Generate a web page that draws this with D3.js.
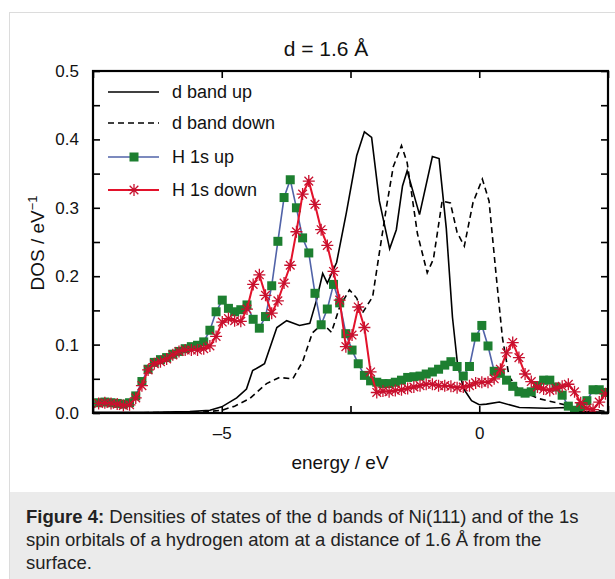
<!DOCTYPE html>
<html><head><meta charset="utf-8">
<script src="https://cdn.jsdelivr.net/npm/d3@7"></script>
<style>
html,body{margin:0;padding:0;background:#fff;}
svg{display:block;font-family:"Liberation Sans",Arial,Helvetica,sans-serif;}
</style></head>
<body>
<svg id="chart" width="615" height="579"></svg>
<script>
// ---------- data ----------
const title = "d = 1.6 Å";
const xLabel = "energy / eV";
const yLabelMain = "DOS / eV";
const yLabelSup = "−1";
const xTickValues = [-7.5, -5, -2.5, 0, 2.5];
const xTickLabels = {"-5": "\u20135", "0": "0"};
const yTickValues = [0, 0.05, 0.1, 0.15, 0.2, 0.25, 0.3, 0.35, 0.4, 0.45, 0.5];
const yTickLabels = {"0": "0.0", "0.1": "0.1", "0.2": "0.2", "0.3": "0.3", "0.4": "0.4", "0.5": "0.5"};
const seriesNames = ["d band up", "d band down", "H 1s up", "H 1s down"];

const dUpEnergy = [-7.5,-6.4,-5.62,-5.23,-5.0,-4.71,-4.52,-4.4,-4.26,-4.17,-3.93,-3.74,-3.49,-3.29,-3.16,-3.04,-2.95,-2.77,-2.58,-2.38,-2.23,-2.09,-1.94,-1.74,-1.61,-1.49,-1.40,-1.16,-0.91,-0.78,-0.64,-0.52,-0.42,-0.30,-0.15,0.0,0.14,0.39,0.78,1.3,1.69,1.94,2.5];
const dUp =       [0.001,0.001,0.002,0.004,0.009,0.022,0.035,0.062,0.068,0.072,0.125,0.135,0.128,0.131,0.165,0.204,0.19,0.22,0.293,0.376,0.411,0.403,0.31,0.24,0.268,0.332,0.354,0.29,0.375,0.372,0.27,0.14,0.07,0.035,0.018,0.012,0.013,0.016,0.008,0.007,0.008,0.002,0.001];

const dDownEnergy = [-7.5,-5.43,-5.0,-4.75,-4.46,-4.13,-3.88,-3.62,-3.43,-3.24,-3.04,-2.87,-2.71,-2.52,-2.38,-2.27,-2.07,-1.94,-1.8,-1.67,-1.51,-1.40,-1.2,-1.01,-0.89,-0.72,-0.56,-0.43,-0.29,-0.12,0.06,0.19,0.33,0.45,0.58,0.78,1.16,1.55,1.94,2.5];
const dDown =       [0.0,0.001,0.004,0.01,0.021,0.043,0.052,0.05,0.075,0.117,0.131,0.118,0.155,0.18,0.168,0.146,0.17,0.234,0.302,0.36,0.391,0.366,0.262,0.205,0.225,0.31,0.307,0.264,0.244,0.308,0.342,0.31,0.2,0.11,0.053,0.033,0.021,0.014,0.007,0.002];

const hEnergy = [-7.39,-7.27,-7.15,-7.03,-6.91,-6.79,-6.67,-6.55,-6.43,-6.31,-6.19,-6.07,-5.95,-5.83,-5.71,-5.59,-5.47,-5.35,-5.23,-5.11,-4.99,-4.87,-4.75,-4.63,-4.51,-4.39,-4.27,-4.15,-4.03,-3.91,-3.79,-3.67,-3.55,-3.43,-3.31,-3.19,-3.07,-2.95,-2.83,-2.71,-2.59,-2.47,-2.35,-2.23,-2.11,-1.99,-1.87,-1.75,-1.63,-1.51,-1.39,-1.27,-1.15,-1.03,-0.91,-0.79,-0.67,-0.55,-0.43,-0.31,-0.19,-0.07,0.05,0.17,0.29,0.41,0.53,0.65,0.77,0.89,1.01,1.13,1.25,1.37,1.49,1.61,1.73,1.85,1.97,2.09,2.21,2.33,2.45];
const hUp = [0.015,0.016,0.015,0.014,0.013,0.015,0.025,0.046,0.064,0.074,0.078,0.081,0.086,0.090,0.094,0.097,0.099,0.104,
  0.121,0.148,0.165,0.153,0.148,0.151,0.158,0.137,0.124,0.141,0.186,0.251,0.315,0.341,0.300,0.256,0.234,0.175,0.129,0.152,0.188,0.161,0.116,0.092,0.072,0.055,0.047,0.045,
  0.043,0.043,0.045,0.048,0.052,0.053,0.054,0.057,0.060,0.064,0.070,0.075,0.068,0.054,0.068,0.111,0.128,0.098,0.061,0.058,0.048,0.039,0.031,0.029,0.031,0.040,0.048,0.048,0.038,0.026,0.010,0.004,0.009,0.018,0.034,0.034,0.030];
const hDown = [0.014,0.015,0.014,0.013,0.011,0.012,0.022,0.040,0.063,0.072,0.075,0.079,0.085,0.090,0.092,0.092,0.092,0.094,
  0.098,0.112,0.133,0.138,0.135,0.134,0.152,0.188,0.202,0.172,0.146,0.164,0.190,0.216,0.265,0.320,0.339,0.305,0.268,0.245,0.207,0.165,0.097,0.114,0.155,0.125,0.060,0.030,
  0.032,0.031,0.033,0.034,0.036,0.038,0.040,0.042,0.042,0.040,0.040,0.039,0.037,0.038,0.040,0.044,0.045,0.045,0.050,0.064,0.088,0.103,0.081,0.057,0.046,0.038,0.035,0.033,0.036,0.039,0.042,0.031,0.015,0.007,0.005,0.016,0.028];

const captionBold = "Figure 4:";
const captionLines = [" Densities of states of the d bands of Ni(111) and of the 1s",
  "spin orbitals of a hydrogen atom at a distance of 1.6 Å from the",
  "surface."];

// ---------- drawing ----------
const svg = d3.select("#chart");
const L = 93, R = 608, T = 71, B = 413;
const x = d3.scaleLinear().domain([-7.5, 2.5]).range([L, R]);
const y = d3.scaleLinear().domain([0, 0.5]).range([B, T]);

// outer frame & caption box
svg.append("rect").attr("x", 9.5).attr("y", 12.5).attr("width", 640).attr("height", 600)
  .attr("fill", "#fff").attr("stroke", "#dcdcdc").attr("stroke-width", 1);
svg.append("rect").attr("x", 10).attr("y", 492).attr("width", 610).attr("height", 90).attr("fill", "#ebebeb");

const cap = svg.append("g").attr("font-size", 18.5).attr("fill", "#222");
const t0 = cap.append("text").attr("x", 26).attr("y", 523);
t0.append("tspan").attr("font-weight", "bold").text(captionBold);
t0.append("tspan").text(captionLines[0]);
cap.append("text").attr("x", 26).attr("y", 546).text(captionLines[1]);
cap.append("text").attr("x", 26).attr("y", 569).text(captionLines[2]);

// title and labels
svg.append("text").attr("x", 326).attr("y", 56).attr("text-anchor", "middle")
  .attr("font-size", 21).attr("fill", "#111").text(title);
svg.append("text").attr("x", 340).attr("y", 469).attr("text-anchor", "middle")
  .attr("font-size", 19).attr("fill", "#111").text(xLabel);
const yl = svg.append("text").attr("transform", "translate(44,243) rotate(-90)")
  .attr("text-anchor", "middle").attr("font-size", 19).attr("fill", "#111");
yl.append("tspan").text(yLabelMain);
yl.append("tspan").attr("dy", -7).attr("font-size", 13).text(yLabelSup);

// clip
svg.append("defs").append("clipPath").attr("id", "clip")
  .append("rect").attr("x", L).attr("y", T).attr("width", R - L).attr("height", B - T);
const plot = svg.append("g").attr("clip-path", "url(#clip)");

const line = d3.line().x(d => x(d[0])).y(d => y(d[1]));

plot.append("path").datum(d3.zip(dUpEnergy, dUp)).attr("d", line)
  .attr("fill", "none").attr("stroke", "#000").attr("stroke-width", 1.6);
plot.append("path").datum(d3.zip(dDownEnergy, dDown)).attr("d", line)
  .attr("fill", "none").attr("stroke", "#000").attr("stroke-width", 1.6).attr("stroke-dasharray", "6,4");

const upData = d3.zip(hEnergy, hUp), downData = d3.zip(hEnergy, hDown);
const green = "#1d7f30", blue = "#5163a8", red = "#e3122b", redDark = "#c8102e";
const starPath = r => { const a = r * 0.72; return `M${-r},0L${r},0M0,${-r}L0,${r}M${-a},${-a}L${a},${a}M${-a},${a}L${a},${-a}`; };

plot.append("path").datum(upData).attr("d", line)
  .attr("fill", "none").attr("stroke", blue).attr("stroke-width", 1.6);
plot.selectAll("rect.sq").data(upData).join("rect").attr("class", "sq")
  .attr("x", d => x(d[0]) - 4.5).attr("y", d => y(d[1]) - 4.5)
  .attr("width", 9).attr("height", 9).attr("fill", green);

plot.append("path").datum(downData).attr("d", line)
  .attr("fill", "none").attr("stroke", red).attr("stroke-width", 2);
plot.selectAll("path.st").data(downData).join("path").attr("class", "st")
  .attr("transform", d => `translate(${x(d[0])},${y(d[1])})`)
  .attr("d", starPath(6)).attr("fill", "none").attr("stroke", redDark).attr("stroke-width", 1.3);

// axes
const fmtY = v => { const k = String(Math.round(v * 100) / 100); return yTickLabels[k] !== undefined ? yTickLabels[k] : ""; };
const fmtX = v => { const k = String(v); return xTickLabels[k] !== undefined ? xTickLabels[k] : ""; };
const styleAxis = g => {
  g.select(".domain").remove();
  g.selectAll(".tick line").attr("stroke", "#000").attr("stroke-width", 1.6);
  g.selectAll(".tick text").attr("fill", "#111").attr("font-size", 17)
    .attr("font-family", "'Liberation Sans',Arial,sans-serif");
};
svg.append("g").attr("transform", `translate(${L},0)`)
  .call(d3.axisLeft(y).tickValues(yTickValues).tickSizeInner(-7).tickSizeOuter(0).tickPadding(14).tickFormat(fmtY))
  .call(styleAxis);
svg.append("g").attr("transform", `translate(${R},0)`)
  .call(d3.axisRight(y).tickValues(yTickValues).tickSizeInner(-7).tickSizeOuter(0).tickFormat(""))
  .call(styleAxis);
svg.append("g").attr("transform", `translate(0,${B})`)
  .call(d3.axisBottom(x).tickValues(xTickValues).tickSizeInner(-7).tickSizeOuter(0).tickPadding(14).tickFormat(fmtX))
  .call(styleAxis);
svg.append("g").attr("transform", `translate(0,${T})`)
  .call(d3.axisTop(x).tickValues(xTickValues).tickSizeInner(-7).tickSizeOuter(0).tickFormat(""))
  .call(styleAxis);
svg.append("rect").attr("x", L).attr("y", T).attr("width", R - L).attr("height", B - T)
  .attr("fill", "none").attr("stroke", "#000").attr("stroke-width", 2.2);

// legend
const leg = svg.append("g");
const rows = [92, 123, 157, 190];
const lx0 = 108, lx1 = 159, lxm = 134, tx = 172;
leg.append("line").attr("x1", lx0).attr("x2", lx1).attr("y1", rows[0]).attr("y2", rows[0]).attr("stroke", "#000").attr("stroke-width", 1.6);
leg.append("line").attr("x1", lx0).attr("x2", lx1).attr("y1", rows[1]).attr("y2", rows[1]).attr("stroke", "#000").attr("stroke-width", 1.6).attr("stroke-dasharray", "6,4");
leg.append("line").attr("x1", lx0).attr("x2", lx1).attr("y1", rows[2]).attr("y2", rows[2]).attr("stroke", blue).attr("stroke-width", 1.6);
leg.append("rect").attr("x", lxm - 4.5).attr("y", rows[2] - 4.5).attr("width", 9).attr("height", 9).attr("fill", green);
leg.append("line").attr("x1", lx0).attr("x2", lx1).attr("y1", rows[3]).attr("y2", rows[3]).attr("stroke", red).attr("stroke-width", 2);
leg.append("path").attr("transform", `translate(${lxm},${rows[3]})`).attr("d", starPath(6)).attr("fill", "none").attr("stroke", redDark).attr("stroke-width", 1.3);
seriesNames.forEach((n, i) => {
  leg.append("text").attr("x", tx).attr("y", rows[i] + 6).attr("font-size", 18).attr("fill", "#111").text(n);
});
</script>
</body></html>
